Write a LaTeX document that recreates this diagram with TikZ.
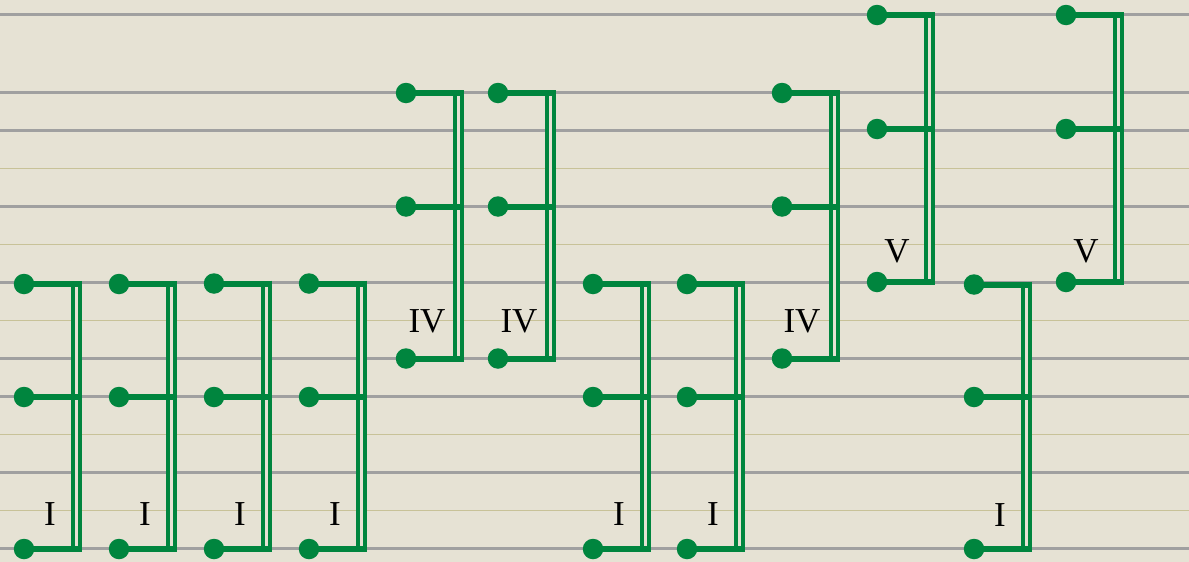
\documentclass[tikz,border=0pt]{standalone}
\usepackage{fontspec}
\setmainfont{Liberation Serif}
\usetikzlibrary{calc}
\definecolor{bg}{RGB}{230,226,212}
\definecolor{staffgray}{RGB}{160,160,160}
\definecolor{staffthin}{RGB}{200,194,152}
\definecolor{grn}{RGB}{0,133,62}
\tikzset{
  dot/.style={circle, fill=grn, minimum size=20.5pt, inner sep=0pt},
  dbl/.style={draw=grn, line width=4pt, double=bg, double distance=3pt},
  hbar/.style={draw=grn, line width=6pt},
  lbl/.style={inner sep=0pt, text=black, font=\fontsize{35}{35}\selectfont},
  thickstaff/.style={draw=staffgray, line width=3pt},
  thinstaff/.style={draw=staffthin, line width=1.6pt},
}
% #1 name, #2 x, #3 ytop, #4 ymid, #5 ybot, #6 label, #7 label x, #8 label y
\newcommand\mybracket[8]{%
  \node[dot] (#1a) at (#2,#3) {};
  \node[dot] (#1b) at (#2,#4) {};
  \node[dot] (#1c) at (#2,#5) {};
  \coordinate (#1vt) at (#2+52,#3-3);
  \coordinate (#1vb) at (#2+52,#5+3);
  \coordinate (#1ea) at (#2+57.5,#3);
  \coordinate (#1eb) at (#2+57.5,#4);
  \coordinate (#1ec) at (#2+57.5,#5);
  \path[dbl] (#1vt) -- (#1vb);
  \path[hbar] (#1a.center) -- (#1ea);
  \path[hbar] (#1b.center) -- (#1eb);
  \path[hbar] (#1c.center) -- (#1ec);
  \node[lbl] (#1l) at (#7,#8) {#6};
}
\begin{document}
\begin{tikzpicture}[x=1pt,y=-1pt]
\fill[bg] (0,0) rectangle (1189,562);
\useasboundingbox (0,0) rectangle (1189,562);
% staff lines
\foreach \yy in {14,92.5,130.5,206.5,282.5,358.5,396.5,472.5,548.5}
  \draw[thickstaff] (0,\yy) -- (1189,\yy);
\foreach \yy in {168.5,244.5,320.5,434.5,510.5}
  \draw[thinstaff] (0,\yy) -- (1189,\yy);
% brackets
\mybracket{ga}{24}{284}{397}{549}{I}{50}{514}
\mybracket{gb}{119}{284}{397}{549}{I}{145}{514}
\mybracket{gc}{214}{283.5}{397}{549}{I}{240}{514}
\mybracket{gd}{309}{283.5}{397}{549}{I}{335}{514}
\mybracket{ge}{406}{93}{206.5}{358.5}{IV}{427}{321}
\mybracket{gf}{498}{93}{206.5}{358.5}{IV}{519}{321}
\mybracket{gg}{593}{284}{397}{549}{I}{619}{514}
\mybracket{gh}{687}{284}{397}{549}{I}{713}{514}
\mybracket{gi}{782}{93}{206.5}{358.5}{IV}{802}{321}
\mybracket{gj}{877}{15}{129}{282}{V}{897}{251}
\mybracket{gk}{974}{284.5}{397}{549}{I}{1000}{515}
\mybracket{gl}{1066}{15}{129}{282}{V}{1086}{251}
\end{tikzpicture}
\end{document}
